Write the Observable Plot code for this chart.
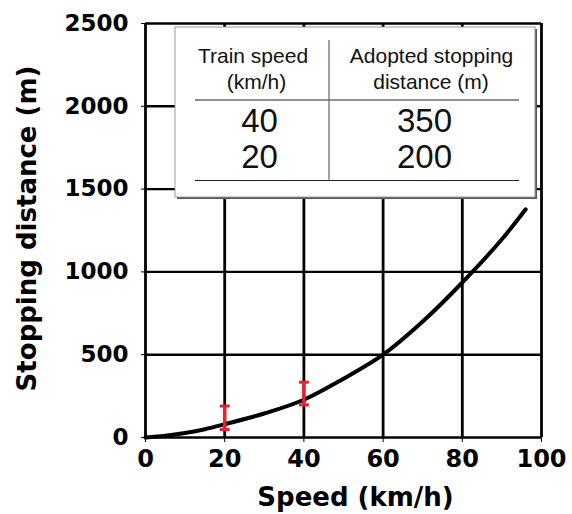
<!DOCTYPE html>
<html>
<head>
<meta charset="utf-8">
<script src="https://cdn.jsdelivr.net/npm/d3@7"></script>
<script src="https://cdn.jsdelivr.net/npm/@observablehq/plot@0.6"></script>
<style>
  html, body { margin: 0; padding: 0; background: white; }
</style>
</head>
<body>
<div id="chart"></div>
<script>
// ---- data ----
const xTicks = [0, 20, 40, 60, 80, 100];
const yTicks = [0, 500, 1000, 1500, 2000, 2500];
const speed = [0, 5, 10, 15, 20, 30, 40, 50, 60, 70, 80, 90, 96];
const distance = [0, 10, 27, 50, 80, 145, 228, 355, 500, 700, 936, 1197, 1378];
const barSpeed = [20, 40];
const barLow = [48, 197];
const barHigh = [190, 334];
const headerSpeed = ["Train speed", "(km/h)"];
const headerDistance = ["Adopted stopping", "distance (m)"];
const tableSpeed = ["40", "20"];
const tableDistance = ["350", "200"];
const xLabel = "Speed (km/h)";
const yLabel = "Stopping distance (m)";

const curve = speed.map((s, i) => ({speed: s, distance: distance[i]}));
const bars = barSpeed.map((s, i) => ({speed: s, lo: barLow[i], hi: barHigh[i]}));

const capSymbol = {
  draw(ctx, size) {
    const w = Math.sqrt(size / Math.PI);
    ctx.moveTo(-w, 0);
    ctx.lineTo(w, 0);
  }
};

const red = "#e3262b";
const axisFont = "DejaVu Sans, Verdana, sans-serif";

const plot = Plot.plot({
  width: 572,
  height: 514,
  marginLeft: 145,
  marginRight: 31,
  marginTop: 23,
  marginBottom: 77,
  style: {fontFamily: axisFont, fontWeight: "bold", fontSize: "23px", color: "black", background: "white"},
  x: {domain: [0, 100]},
  y: {domain: [0, 2500]},
  marks: [
    Plot.gridX(xTicks, {stroke: "black", strokeOpacity: 1, strokeWidth: 2.8}),
    Plot.gridY(yTicks, {stroke: "black", strokeOpacity: 1, strokeWidth: 2.4}),
    Plot.axisX(xTicks, {tickSize: 5, tickPadding: 7, label: null, fontSize: 24, tickFormat: d => String(d)}),
    Plot.axisY(yTicks, {tickSize: 4, tickPadding: 13, label: null, fontSize: 23, tickFormat: d => String(d)}),
    Plot.line(curve, {x: "speed", y: "distance", stroke: "black", strokeWidth: 4, curve: "catmull-rom"}),
    Plot.ruleX(bars, {x: "speed", y1: "lo", y2: "hi", stroke: red, strokeWidth: 3.5}),
    Plot.dot(bars, {x: "speed", y: "lo", symbol: capSymbol, r: 5, stroke: red, strokeWidth: 3, fill: "none"}),
    Plot.dot(bars, {x: "speed", y: "hi", symbol: capSymbol, r: 5, stroke: red, strokeWidth: 3, fill: "none"}),
    Plot.text([xLabel], {frameAnchor: "bottom", dy: 60, dx: 12, fontSize: 26, fontWeight: "bold", fill: "black", lineAnchor: "middle", textAnchor: "middle"}),
    Plot.text([yLabel], {frameAnchor: "left", dx: -118, dy: -2, rotate: -90, fontSize: 26, fontWeight: "bold", fill: "black", lineAnchor: "middle", textAnchor: "middle"})
  ]
});

// ---- inset table (annotation) ----
const svg = d3.select(plot);
const g = svg.append("g");
const box = {x: 175, y: 27, w: 360, h: 170};
g.append("rect").attr("x", box.x + 2).attr("y", box.y + 2).attr("width", box.w).attr("height", box.h).attr("fill", "#555");
g.append("rect").attr("x", box.x).attr("y", box.y).attr("width", box.w).attr("height", box.h)
  .attr("fill", "white").attr("stroke", "#999").attr("stroke-width", 1);
g.append("line").attr("x1", 195).attr("x2", 519).attr("y1", 100).attr("y2", 100).attr("stroke", "#222").attr("stroke-width", 1.2);
g.append("line").attr("x1", 195).attr("x2", 519).attr("y1", 180.5).attr("y2", 180.5).attr("stroke", "#222").attr("stroke-width", 1.2);
g.append("line").attr("x1", 329).attr("x2", 329).attr("y1", 40).attr("y2", 180.5).attr("stroke", "#666").attr("stroke-width", 1.2);

function txt(s, x, y, size) {
  g.append("text").text(s).attr("x", x).attr("y", y).attr("text-anchor", "middle")
    .style("font-family", "Liberation Sans, Arial, sans-serif").style("font-weight", "normal")
    .style("font-size", size + "px").attr("fill", "#111");
}
txt(headerSpeed[0], 253, 62.5, 21);
txt(headerSpeed[1], 256.5, 88.5, 21);
txt(headerDistance[0], 431.5, 62.5, 21);
txt(headerDistance[1], 431, 88.5, 21);
tableSpeed.forEach((s, i) => txt(s, 259.5, 131.7 + i * 36.7, 33));
tableDistance.forEach((s, i) => txt(s, 424.5, 131.7 + i * 36.7, 33));

document.getElementById("chart").appendChild(plot);
</script>
</body>
</html>
